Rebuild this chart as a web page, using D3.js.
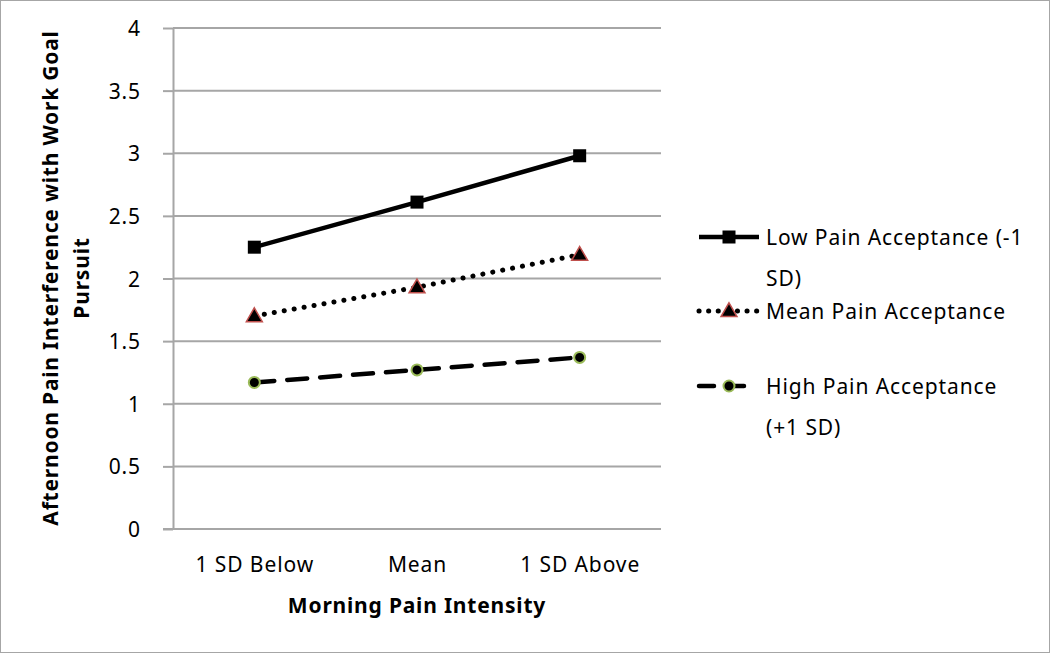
<!DOCTYPE html>
<html><head><meta charset="utf-8">
<script src="https://cdn.jsdelivr.net/npm/d3@7"></script>
<style>body{margin:0;background:#fff}svg{display:block}text{font-family:"Noto Sans","Open Sans",sans-serif;fill:#000}</style>
</head><body><svg id="c" width="1050" height="653"></svg>
<script>
const categories = ["1 SD Below", "Mean", "1 SD Above"];
const lowValues = [2.25, 2.61, 2.98];
const meanValues = [1.70, 1.93, 2.19];
const highValues = [1.17, 1.27, 1.37];
const yTicks = [0, 0.5, 1, 1.5, 2, 2.5, 3, 3.5, 4];
const seriesNames = ["Low Pain Acceptance (-1 SD)", "Mean Pain Acceptance", "High Pain Acceptance (+1 SD)"];

const svg = d3.select("#c");
svg.append("rect").attr("x",0.5).attr("y",0.5).attr("width",1049).attr("height",652).attr("fill","#fff").attr("stroke","#a6a6a6");

const L=173, R=661, T=28, B=529;
const FS=21, LS=0.9;
const x = d3.scalePoint().domain(categories).range([L,R]).padding(0.5);
const y = d3.scaleLinear().domain([0,4]).range([B,T]);

const yAxis = svg.append("g").attr("transform",`translate(${L},0)`)
  .call(d3.axisLeft(y).tickValues(yTicks).tickSize(10).tickFormat(d=>String(d)).tickSizeOuter(0));
yAxis.select(".domain").attr("stroke","#a6a6a6").attr("stroke-width",2);
yAxis.selectAll(".tick line").attr("stroke","#a6a6a6").attr("stroke-width",2);
yAxis.selectAll(".tick text").attr("font-size",FS).attr("letter-spacing",LS).attr("x",-32).attr("dy","0.36em");
svg.append("g").selectAll("line").data(yTicks.filter(d=>d>0)).join("line")
  .attr("x1",L).attr("x2",R).attr("y1",d=>y(d)).attr("y2",d=>y(d)).attr("stroke","#a6a6a6").attr("stroke-width",2);
svg.append("line").attr("x1",L-10).attr("x2",R).attr("y1",B).attr("y2",B).attr("stroke","#a6a6a6").attr("stroke-width",2);

const xAxis = svg.append("g").attr("transform",`translate(0,${B})`).call(d3.axisBottom(x).tickSize(0));
xAxis.select(".domain").remove();
xAxis.selectAll(".tick text").attr("font-size",FS).attr("letter-spacing",LS).attr("y",43).attr("dy",0);

svg.append("text").attr("x",(L+R)/2).attr("y",613).attr("text-anchor","middle").attr("font-size",FS).attr("letter-spacing",0.8).attr("font-weight","bold").text("Morning Pain Intensity");
const yt = svg.append("text").attr("transform","translate(0,278) rotate(-90)").attr("text-anchor","middle").attr("font-size",FS).attr("letter-spacing",0.8).attr("font-weight","bold");
yt.append("tspan").attr("x",0).attr("y",58).text("Afternoon Pain Interference with Work Goal");
yt.append("tspan").attr("x",0).attr("y",89).text("Pursuit");

const styles = [
  {vals:lowValues, dash:null, cap:"butt", marker:"square"},
  {vals:meanValues, dash:"0.1 10", cap:"round", marker:"triangle"},
  {vals:highValues, dash:"20 13", cap:"round", marker:"circle"}
];
const line = d3.line().x((d,i)=>x(categories[i])).y(d=>y(d));
function drawMarker(g, type, cx, cy){
  if(type==="square") g.append("rect").attr("x",cx-6.5).attr("y",cy-6.5).attr("width",13).attr("height",13).attr("fill","#000");
  else if(type==="triangle") g.append("path").attr("d",d3.symbol().type(d3.symbolTriangle).size(110)()).attr("transform",`translate(${cx},${cy+1})`).attr("fill","#000").attr("stroke","#c0504d").attr("stroke-width",1.5);
  else g.append("circle").attr("cx",cx).attr("cy",cy).attr("r",5.5).attr("fill","#000").attr("stroke","#9bbb59").attr("stroke-width",2);
}
styles.forEach(s=>{
  const p = svg.append("path").attr("d",line(s.vals)).attr("fill","none").attr("stroke","#000").attr("stroke-width",s.marker==="triangle"?5:4.5).attr("stroke-linecap",s.cap);
  if(s.dash) p.attr("stroke-dasharray",s.dash);
  const g = svg.append("g");
  s.vals.forEach((v,i)=>drawMarker(g,s.marker,x(categories[i]),y(v)));
});

// legend
const legY = [237, 311, 386];
const legLines = [["Low Pain Acceptance (-1","SD)"],["Mean Pain Acceptance"],["High Pain Acceptance","(+1 SD)"]];
styles.forEach((s,i)=>{
  const ly = legY[i];
  const p = svg.append("line").attr("x1",699).attr("x2",759).attr("y1",ly).attr("y2",ly).attr("stroke","#000").attr("stroke-width",s.marker==="triangle"?5:4.5).attr("stroke-linecap",s.cap);
  if(s.dash) p.attr("stroke-dasharray", s.marker==="triangle"?"0.1 9.5":"15 15");
  drawMarker(svg.append("g"), s.marker, 729, ly);
  const t = svg.append("text").attr("font-size",FS).attr("letter-spacing",LS);
  legLines[i].forEach((ln,j)=>t.append("tspan").attr("x",766).attr("y",ly+8+j*41).text(ln));
});
</script></body></html>
